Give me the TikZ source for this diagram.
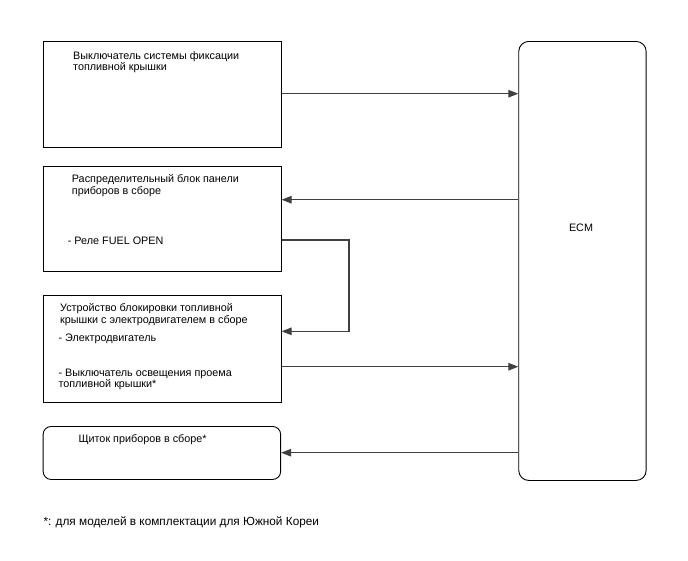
\documentclass[tikz,border=0pt]{standalone}
\usepackage{fontspec}
\setmainfont{Liberation Sans}
\usetikzlibrary{arrows.meta}
\tikzset{
  box/.style={draw=black,line width=.9pt,anchor=north west,inner sep=0pt},
  txt/.style={anchor=base west,align=left,inner sep=0pt,font=\fontsize{10.8}{11.7}\selectfont},
  arr/.style={draw=black!75,line width=1.2pt,-{Triangle[length=10pt,width=7.5pt]}}
}
\begin{document}
\begin{tikzpicture}[x=1pt,y=-1pt]
  \useasboundingbox (0,0) rectangle (688,560);
  % blocks
  \node[box,minimum width=238pt,minimum height=105.7pt] (sw) at (42.7,41) {};
  \node[box,minimum width=238pt,minimum height=104.7pt] (jb) at (42.7,166) {};
  \node[box,minimum width=238pt,minimum height=106.7pt] (lock) at (42.7,295) {};
  \node[box,rounded corners=8pt,minimum width=237.5pt,minimum height=53pt] (meter) at (42.7,426) {};
  \node[box,rounded corners=10pt,minimum width=127.4pt,minimum height=439pt] (ecm) at (518.3,41) {};
  % texts (base = last line)
  \node[txt] (swtxt) at (73,70.7) {Выключатель системы фиксации\\топливной крышки};
  \node[txt] (jbtxt) at (71.7,194.4) {Распределительный блок панели\\приборов в сборе};
  \node[txt] (relay) at (67.7,244.4) {- Реле FUEL OPEN};
  \node[txt] (locktxt) at (60,323) {Устройство блокировки топливной\\крышки с электродвигателем в сборе};
  \node[txt] (motor) at (58.3,341.4) {- Электродвигатель};
  \node[txt] (lamp) at (58.3,387.7) {- Выключатель освещения проема\\топливной крышки*};
  \node[txt] (metertxt) at (78.3,442.7) {Щиток приборов в сборе*};
  \node[txt,anchor=base] (ecmtxt) at (581,231) {ECM};
  \node[txt,font=\fontsize{11.8}{13}\selectfont] (note) at (43.3,525.7) {*: для моделей в комплектации для Южной Кореи};
  % wires
  \coordinate (y1) at (0,93.7);
  \coordinate (y2) at (0,199.7);
  \coordinate (y3) at (0,240);
  \coordinate (bend) at (349,331.3);
  \coordinate (y4) at (0,366.7);
  \coordinate (y5) at (0,452.7);
  \draw[arr] (sw.east |- y1) -- (ecm.west |- y1);
  \draw[arr] (ecm.west |- y2) -- (jb.east |- y2);
  \draw[arr] (jb.east |- y3) -| (bend) -- (lock.east |- bend);
  \draw[arr] (lock.east |- y4) -- (ecm.west |- y4);
  \draw[arr] (ecm.west |- y5) -- (meter.east |- y5);
\end{tikzpicture}
\end{document}
